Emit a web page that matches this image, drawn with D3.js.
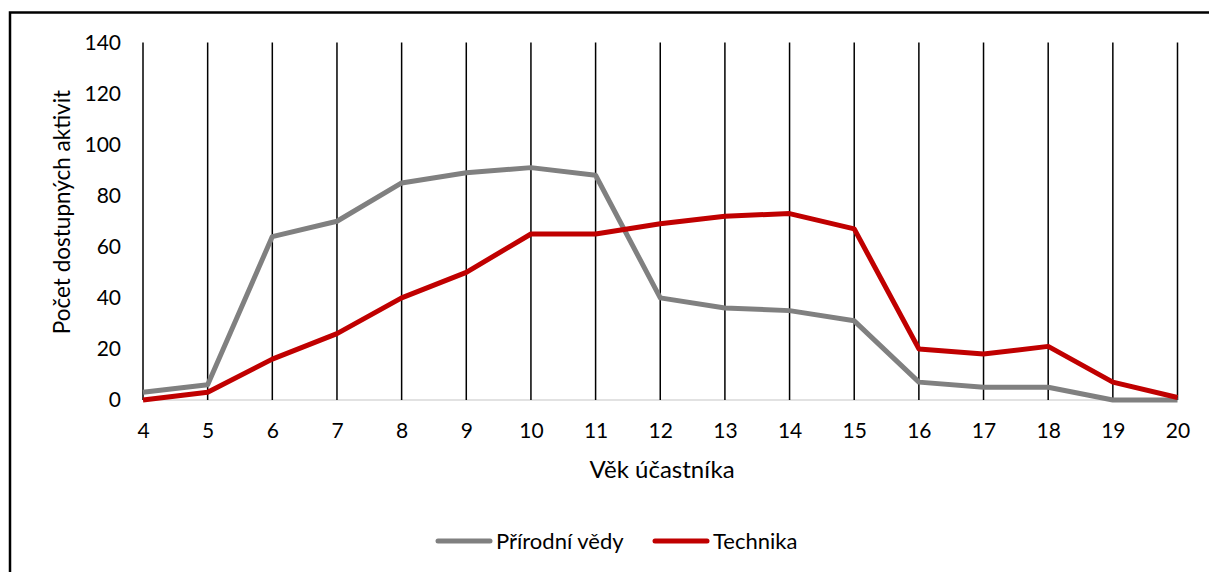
<!DOCTYPE html>
<html>
<head>
<meta charset="utf-8">
<script src="https://cdn.jsdelivr.net/npm/d3@7"></script>
<style>
  body { margin: 0; background: #fff; }
  svg { display: block; font-family: Lato, "Open Sans", sans-serif; }
</style>
</head>
<body>
<svg id="chart" width="1209" height="572"></svg>
<script>
const ages = [4, 5, 6, 7, 8, 9, 10, 11, 12, 13, 14, 15, 16, 17, 18, 19, 20]
const prirodniVedy = [3, 6, 64, 70, 85, 89, 91, 88, 40, 36, 35, 31, 7, 5, 5, 0, 0]
const technika = [0, 3, 16, 26, 40, 50, 65, 65, 69, 72, 73, 67, 20, 18, 21, 7, 1]
const yTicks = [0, 20, 40, 60, 80, 100, 120, 140]
const seriesNames = ["Přírodní vědy", "Technika"]
const seriesColors = ["#808080", "#c00000"]

const svg = d3.select('#chart')

// outer frame (only top and left edges fall inside the picture)
svg.append('rect')
    .attr('x', 10)
    .attr('y', 12.5)
    .attr('width', 1300)
    .attr('height', 700)
    .attr('fill', 'none')
    .attr('stroke', '#000')
    .attr('stroke-width', 2.5)

const x = d3.scaleLinear([4, 20], [143, 1177.5])
const y = d3.scaleLinear([0, 140], [400, 42.5])

// baseline
svg.append('line')
    .attr('x1', x(4)).attr('x2', x(20))
    .attr('y1', y(0)).attr('y2', y(0))
    .attr('stroke', '#d9d9d9')
    .attr('stroke-width', 1.5)

// vertical grid lines
svg.append('g')
    .selectAll('line')
    .data(ages)
    .join('line')
    .attr('x1', d => x(d)).attr('x2', d => x(d))
    .attr('y1', y(140)).attr('y2', y(0))
    .attr('stroke', '#000')
    .attr('stroke-width', 1.5)

const yAxis = d3.axisLeft(y).tickValues(yTicks).tickSize(0).tickPadding(0)
svg.append('g')
    .attr('transform', 'translate(121,0)')
    .call(yAxis)
    .call(g => g.select('.domain').remove())
    .selectAll('text')
    .attr('font-size', '21px')
    .attr('font-family', 'Lato, sans-serif')
    .attr('fill', '#000')

const xAxis = d3.axisBottom(x).tickValues(ages).tickFormat(d3.format('d')).tickSize(0).tickPadding(0)
svg.append('g')
    .attr('transform', 'translate(0,423)')
    .call(xAxis)
    .call(g => g.select('.domain').remove())
    .selectAll('text')
    .attr('font-size', '21px')
    .attr('font-family', 'Lato, sans-serif')
    .attr('fill', '#000')

const line = d3.line()
    .x((d, i) => x(ages[i]))
    .y(d => y(d))

const allSeries = [prirodniVedy, technika]
svg.append('g')
    .selectAll('path')
    .data(allSeries)
    .join('path')
    .attr('d', d => line(d))
    .attr('fill', 'none')
    .attr('stroke', (d, i) => seriesColors[i])
    .attr('stroke-width', 5)
    .attr('stroke-linejoin', 'round')

// axis titles
svg.append('text')
    .text('Věk účastníka')
    .attr('x', 662)
    .attr('y', 478)
    .attr('text-anchor', 'middle')
    .attr('font-size', '24px')
    .attr('fill', '#000')

svg.append('text')
    .text('Počet dostupných aktivit')
    .attr('transform', 'translate(70,212) rotate(-90)')
    .attr('text-anchor', 'middle')
    .attr('font-size', '22.5px')
    .attr('fill', '#000')

// legend
const legendX = [438, 655]
const legend = svg.append('g')
    .selectAll('g')
    .data(seriesNames)
    .join('g')
    .attr('transform', (d, i) => `translate(${legendX[i]},541)`)

legend.append('line')
    .attr('x1', 0).attr('x2', 52)
    .attr('stroke', (d, i) => seriesColors[i])
    .attr('stroke-width', 5)
    .attr('stroke-linecap', 'round')

legend.append('text')
    .text(d => d)
    .attr('x', 58)
    .attr('y', 8)
    .attr('font-size', '22px')
    .attr('fill', '#000')
</script>
</body>
</html>
